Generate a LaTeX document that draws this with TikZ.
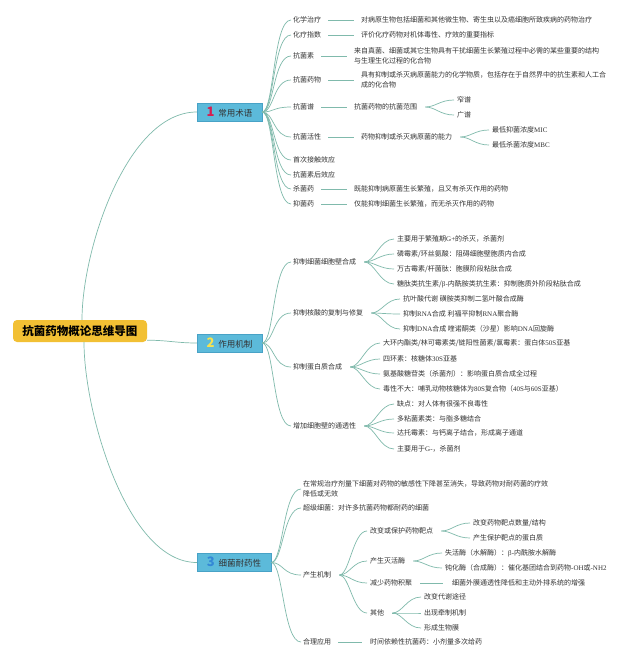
\documentclass[tikz,border=0pt]{standalone}
\usepackage{fontspec}
\setmainfont{Noto Sans CJK SC}
\newfontfamily\latf{Liberation Serif}
\newcommand\ltn[1]{{\latf #1}}
\definecolor{lc}{RGB}{128,186,172}
\definecolor{tc}{RGB}{51,51,51}
\definecolor{bfill}{RGB}{92,186,218}
\definecolor{bdraw}{RGB}{72,162,198}
\definecolor{rfill}{RGB}{242,192,52}
\definecolor{n1}{RGB}{214,30,80}
\definecolor{n2}{RGB}{246,226,80}
\definecolor{n3}{RGB}{52,136,214}
\begin{document}
\begin{tikzpicture}[x=1pt,y=-1pt,
 t/.style={font=\fontsize{7}{10}\selectfont, text=tc, anchor=west, inner sep=0pt, align=left},
 ln/.style={draw=lc, line width=0.7pt},
 br/.style={fill=bfill, draw=bdraw, line width=0.4pt, minimum height=18pt, inner sep=0pt, font=\fontsize{8.5}{8.5}\selectfont, text=tc},
 rt/.style={fill=rfill, rounded corners=4pt, minimum width=134pt, minimum height=22pt, inner sep=0pt, font=\fontsize{11.5}{11.5}\selectfont\bfseries, text=black}
]
\fill[white] (0,0) rectangle (640,662);
\useasboundingbox (0,0) rectangle (640,662);

% ---------- root and branches
\node[rt] (root) at (80,331) {抗菌药物概论思维导图};
\node[br, minimum width=65pt] (b1) at (229.5,112) {{\fontsize{13}{13}\selectfont\bfseries\color{n1}1}\hspace{4pt}常用术语};
\node[br, minimum width=65pt] (b2) at (229.5,343) {{\fontsize{13}{13}\selectfont\bfseries\color{n2}2}\hspace{4pt}作用机制};
\node[br, minimum width=74pt] (b3) at (234,562.5) {{\fontsize{13}{13}\selectfont\bfseries\color{n3}3}\hspace{4pt}细菌耐药性};

\draw[ln] ([xshift=2pt]root.north) .. controls +(0,-70) and +(-70,0) .. (b1.west);
\draw[ln] ([yshift=2pt]root.south east) .. controls +(20,0) and +(-20,0) .. (b2.west);
\draw[ln] ([xshift=4pt]root.south) .. controls +(0,70) and +(-70,0) .. (b3.west);

% ---------- branch 1
\node[t] (a1) at (293,20) {化学治疗};
\node[t] (d1) at (361,20) {对病原生物包括细菌和其他微生物、寄生虫以及癌细胞所致疾病的药物治疗};
\node[t] (a2) at (293,35) {化疗指数};
\node[t] (d2) at (361,35) {评价化疗药物对机体毒性、疗效的重要指标};
\node[t] (a3) at (293,56) {抗菌素};
\node[t] (d3) at (354,56) {来自真菌、细菌或其它生物具有干扰细菌生长繁殖过程中必需的某些重要的结构\\与生理生化过程的化合物};
\node[t] (a4) at (293,80) {抗菌药物};
\node[t] (d4) at (361,80) {具有抑制或杀灭病原菌能力的化学物质，包括存在于自然界中的抗生素和人工合\\成的化合物};
\node[t] (a5) at (293,107) {抗菌谱};
\node[t] (d5) at (354,107) {抗菌药物的抗菌范围};
\node[t] (s51) at (457,100) {窄谱};
\node[t] (s52) at (457,115) {广谱};
\node[t] (a6) at (293,137) {抗菌活性};
\node[t] (d6) at (361,137) {药物抑制或杀灭病原菌的能力};
\node[t] (s61) at (492,130) {最低抑菌浓度\ltn{MIC}};
\node[t] (s62) at (492,145) {最低杀菌浓度\ltn{MBC}};
\node[t] (a7) at (293,160) {首次接触效应};
\node[t] (a8) at (293,175) {抗菌素后效应};
\node[t] (a9) at (293,189) {杀菌药};
\node[t] (d9) at (354,189) {既能抑制病原菌生长繁殖，且又有杀灭作用的药物};
\node[t] (a10) at (293,204) {抑菌药};
\node[t] (d10) at (354,204) {仅能抑制细菌生长繁殖，而无杀灭作用的药物};

\foreach \n in {a1,a2,a3,a4,a5,a6,a7,a8,a9,a10}
  \draw[ln] (b1.east) .. controls +(12,0) and +(-18,0) .. ([xshift=-2pt]\n.west);
\foreach \a/\d in {a1/d1,a2/d2,a3/d3,a4/d4,a5/d5,a6/d6,a9/d9,a10/d10}
  \draw[ln] ([xshift=7pt]\a.east) -- ([xshift=-7pt]\d.west);
\foreach \s in {s51,s52}
  \draw[ln] ([xshift=8pt]d5.east) .. controls +(10,0) and +(-14,0) .. ([xshift=-3pt]\s.west);
\foreach \s in {s61,s62}
  \draw[ln] ([xshift=8pt]d6.east) .. controls +(10,0) and +(-14,0) .. ([xshift=-3pt]\s.west);

% ---------- branch 2
\node[t] (c1) at (293,262) {抑制细菌细胞壁合成};
\node[t] (e11) at (397,239) {主要用于繁殖期\ltn{G+}的杀灭，杀菌剂};
\node[t] (e12) at (397,254) {磷霉素/环丝氨酸：阻碍细胞壁胞质内合成};
\node[t] (e13) at (397,269) {万古霉素/杆菌肽：胞膜阶段粘肽合成};
\node[t] (e14) at (397,284) {糖肽类抗生素/\ltn{β-}内酰胺类抗生素：抑制胞质外阶段粘肽合成};
\node[t] (c2) at (293,313) {抑制核酸的复制与修复};
\node[t] (e21) at (403,299) {抗叶酸代谢 磺胺类抑制二氢叶酸合成酶};
\node[t] (e22) at (403,314) {抑制\ltn{RNA}合成 利福平抑制\ltn{RNA}聚合酶};
\node[t] (e23) at (403,329) {抑制\ltn{DNA}合成 喹诺酮类（沙星）影响\ltn{DNA}回旋酶};
\node[t] (c3) at (293,367) {抑制蛋白质合成};
\node[t] (e31) at (383,343) {大环内酯类/林可霉素类/链阳性菌素/氯霉素：蛋白体\ltn{50S}亚基};
\node[t] (e32) at (383,359) {四环素：核糖体\ltn{30S}亚基};
\node[t] (e33) at (383,374) {氨基酸糖苷类（杀菌剂）：影响蛋白质合成全过程};
\node[t] (e34) at (383,389) {毒性不大：哺乳动物核糖体为\ltn{80S}复合物（\ltn{40S}与\ltn{60S}亚基）};
\node[t] (c4) at (293,426) {增加细胞壁的通透性};
\node[t] (e41) at (397,404) {缺点：对人体有很强不良毒性};
\node[t] (e42) at (397,419) {多粘菌素类：与脂多糖结合};
\node[t] (e43) at (397,433) {达托霉素：与钙离子结合，形成离子通道};
\node[t] (e44) at (397,449) {主要用于\ltn{G-}，杀菌剂};

\foreach \n in {c1,c2,c3,c4}
  \draw[ln] (b2.east) .. controls +(12,0) and +(-18,0) .. ([xshift=-2pt]\n.west);
\foreach \n in {e11,e12,e13,e14}
  \draw[ln] ([xshift=8pt]c1.east) .. controls +(10,0) and +(-14,0) .. ([xshift=-3pt]\n.west);
\foreach \n in {e21,e22,e23}
  \draw[ln] ([xshift=8pt]c2.east) .. controls +(10,0) and +(-14,0) .. ([xshift=-3pt]\n.west);
\foreach \n in {e31,e32,e33,e34}
  \draw[ln] ([xshift=8pt]c3.east) .. controls +(10,0) and +(-14,0) .. ([xshift=-3pt]\n.west);
\foreach \n in {e41,e42,e43,e44}
  \draw[ln] ([xshift=8pt]c4.east) .. controls +(10,0) and +(-14,0) .. ([xshift=-3pt]\n.west);

% ---------- branch 3
\node[t] (f1) at (303,489) {在常规治疗剂量下细菌对药物的敏感性下降甚至消失，导致药物对耐药菌的疗效\\降低或无效};
\node[t] (f2) at (303,508) {超级细菌：对许多抗菌药物都耐药的细菌};
\node[t] (f3) at (303,575) {产生机制};
\node[t] (g1) at (370,531) {改变或保护药物靶点};
\node[t] (h11) at (473,523) {改变药物靶点数量/结构};
\node[t] (h12) at (473,538) {产生保护靶点的蛋白质};
\node[t] (g2) at (370,561) {产生灭活酶};
\node[t] (h21) at (445,553) {失活酶（水解酶）：\ltn{β-}内酰胺水解酶};
\node[t] (h22) at (445,568) {钝化酶（合成酶）：催化基团结合到药物\ltn{-OH}或\ltn{-NH2}};
\node[t] (g3) at (370,583) {减少药物积聚};
\node[t] (h31) at (452,583) {细菌外膜通透性降低和主动外排系统的增强};
\node[t] (g4) at (370,613) {其他};
\node[t] (h41) at (424,597) {改变代谢途径};
\node[t] (h42) at (424,613) {出现牵制机制};
\node[t] (h43) at (424,628) {形成生物膜};
\node[t] (f4) at (303,642) {合理应用};
\node[t] (h5) at (370,642) {时间依赖性抗菌药：小剂量多次给药};

\foreach \n in {f1,f2,f3,f4}
  \draw[ln] (b3.east) .. controls +(12,0) and +(-18,0) .. ([xshift=-2pt]\n.west);
\foreach \n in {g1,g2,g3,g4}
  \draw[ln] ([xshift=8pt]f3.east) .. controls +(10,0) and +(-14,0) .. ([xshift=-3pt]\n.west);
\foreach \n in {h11,h12}
  \draw[ln] ([xshift=8pt]g1.east) .. controls +(10,0) and +(-14,0) .. ([xshift=-3pt]\n.west);
\foreach \n in {h21,h22}
  \draw[ln] ([xshift=8pt]g2.east) .. controls +(10,0) and +(-14,0) .. ([xshift=-3pt]\n.west);
\foreach \n in {h41,h42,h43}
  \draw[ln] ([xshift=8pt]g4.east) .. controls +(10,0) and +(-14,0) .. ([xshift=-3pt]\n.west);
\draw[ln] ([xshift=8pt]g3.east) -- ([xshift=-9pt]h31.west);
\draw[ln] ([xshift=7pt]f4.east) -- ([xshift=-8pt]h5.west);
\end{tikzpicture}
\end{document}
